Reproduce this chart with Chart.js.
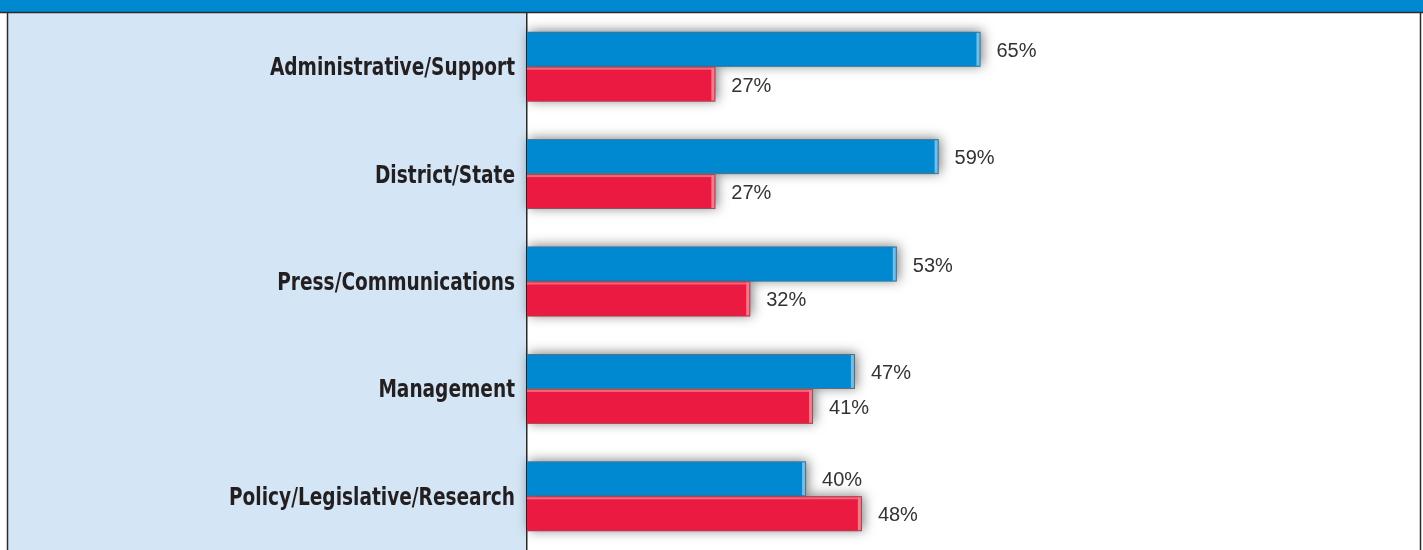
<!DOCTYPE html>
<html>
<head>
<meta charset="utf-8">
<script src="https://cdn.jsdelivr.net/npm/chart.js@4"></script>
<style>
  html, body { margin: 0; padding: 0; background: #fff; }
  #wrap { width: 1423px; height: 550px; }
</style>
</head>
<body>
<div id="wrap"><canvas id="chart" width="1423" height="550"></canvas></div>
<script>
// job categories and the two percentage series
const categories = ['Administrative/Support', 'District/State', 'Press/Communications', 'Management', 'Policy/Legislative/Research'];
const blueValues = [65, 59, 53, 47, 40];
const redValues = [27, 27, 32, 41, 48];

const BLUE = '#0088d0';
const RED = '#ea1a40';

// panel backgrounds, header strip, frame and condensed category labels
const panelPlugin = {
  id: 'panel',
  beforeDraw(chart) {
    const ctx = chart.ctx;
    const area = chart.chartArea;
    ctx.save();
    ctx.fillStyle = '#ffffff';
    ctx.fillRect(0, 0, chart.width, chart.height);
    ctx.fillStyle = '#d4e5f5';
    ctx.fillRect(8, area.top, area.left - 8, chart.height - area.top);
    ctx.fillStyle = '#0088d1';
    ctx.fillRect(0, 0, chart.width, 12);
    ctx.strokeStyle = '#2b2b2b';
    ctx.lineWidth = 1.5;
    ctx.beginPath();
    ctx.moveTo(0, 12.5); ctx.lineTo(chart.width, 12.5);
    ctx.moveTo(7.5, 12); ctx.lineTo(7.5, chart.height);
    ctx.moveTo(1420.5, 12); ctx.lineTo(1420.5, chart.height);
    ctx.stroke();
    ctx.restore();
  },
  afterDraw(chart) {
    const ctx = chart.ctx;
    const yScale = chart.scales.y;
    const right = chart.chartArea.left - 12;
    const squeeze = 0.825;
    ctx.save();
    ctx.fillStyle = '#231f20';
    ctx.font = 'bold 25px "DejaVu Sans Condensed", "DejaVu Sans", sans-serif';
    ctx.textAlign = 'right';
    ctx.textBaseline = 'middle';
    chart.data.labels.forEach((label, i) => {
      const y = yScale.getPixelForTick(i) + 2;
      ctx.save();
      ctx.translate(right, y);
      ctx.scale(squeeze, 1);
      ctx.fillText(label, 0, 0);
      ctx.restore();
    });
    ctx.restore();
  },
  // soft drop shadow behind every bar
  beforeDatasetsDraw(chart) {
    const ctx = chart.ctx;
    ctx.save();
    ctx.shadowColor = 'rgba(0,0,0,0.5)';
    ctx.shadowBlur = 12;
    ctx.shadowOffsetX = 2;
    ctx.shadowOffsetY = -1;
    chart.data.datasets.forEach((ds, i) => {
      chart.getDatasetMeta(i).data.forEach(bar => {
        ctx.fillStyle = ds.backgroundColor;
        ctx.fillRect(bar.base, bar.y - bar.height / 2, bar.x - bar.base, bar.height);
      });
    });
    ctx.restore();
  },
  afterDatasetsDraw(chart) {
    const ctx = chart.ctx;
    ctx.save();
    chart.data.datasets.forEach((ds, i) => {
      const meta = chart.getDatasetMeta(i);
      meta.data.forEach((bar, j) => {
        const h = bar.height;
        const top = bar.y - h / 2;
        // light edge at the end of each bar
        ctx.fillStyle = i === 0 ? 'rgba(140,205,240,0.8)' : 'rgba(250,140,150,0.85)';
        ctx.fillRect(bar.x - 4, top + 1, 3, h - 2);
        if (i === 1) {
          ctx.fillStyle = 'rgba(250,120,135,0.8)';
          ctx.fillRect(bar.base, top + 1, bar.x - bar.base - 1, 2);
        }
        // value label
        ctx.fillStyle = '#333333';
        ctx.font = '20px "Liberation Sans", Arial, sans-serif';
        ctx.textAlign = 'left';
        ctx.textBaseline = 'middle';
        ctx.fillText(ds.data[j] + '%', bar.x + 16, bar.y + 2);
      });
    });
    ctx.restore();
  }
};

new Chart(document.getElementById('chart'), {
  type: 'bar',
  data: {
    labels: categories,
    datasets: [
      { data: blueValues, backgroundColor: BLUE, borderColor: '#5f6f7a', borderWidth: 1, borderSkipped: 'left' },
      { data: redValues, backgroundColor: RED, borderColor: '#8a5560', borderWidth: 1, borderSkipped: 'left' }
    ]
  },
  options: {
    indexAxis: 'y',
    responsive: false,
    animation: false,
    layout: { padding: { top: 13, right: 3, left: 0, bottom: 0 } },
    categoryPercentage: 0.65,
    barPercentage: 1.0,
    plugins: {
      legend: { display: false },
      tooltip: { enabled: false }
    },
    scales: {
      x: {
        display: false,
        min: 0,
        max: 128
      },
      y: {
        afterFit(scale) {
          scale.width = 527;
          scale.paddingTop = 0;
          scale.paddingBottom = 0;
        },
        grid: { display: false, drawTicks: false },
        border: { display: true, color: '#2b2b2b', width: 1.5 },
        ticks: { display: false }
      }
    }
  },
  plugins: [panelPlugin]
});
</script>
</body>
</html>
